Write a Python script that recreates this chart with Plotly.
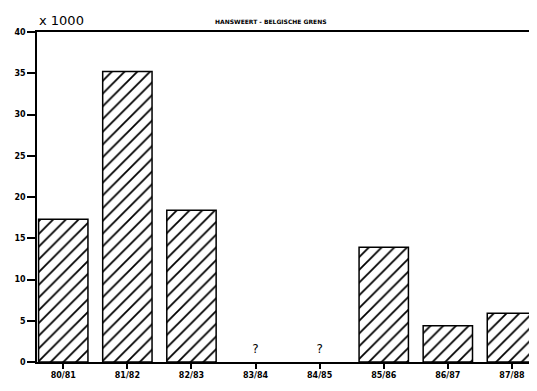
import plotly.graph_objects as go

seasons = ["80/81", "81/82", "82/83", "83/84", "84/85", "85/86", "86/87", "87/88"]
values = [17.3, 35.2, 18.4, None, None, 13.9, 4.4, 5.9]
missing = ["83/84", "84/85"]
y_ticks = [0, 5, 10, 15, 20, 25, 30, 35, 40]

fig = go.Figure()
fig.add_trace(go.Bar(
    x=list(range(len(seasons))), y=values, width=0.77,
    marker=dict(color="white", line=dict(color="black", width=1.5),
                pattern=dict(shape="/", fgcolor="black", fgopacity=1, bgcolor="white", size=9, solidity=0.2)),
    showlegend=False, hoverinfo="skip",
))
fig.add_trace(go.Scatter(
    x=[seasons.index(s) for s in missing], y=[1.5] * len(missing), mode="text", text=["?"] * len(missing),
    textfont=dict(family="DejaVu Sans", size=12, color="black"), showlegend=False, hoverinfo="skip",
))

fig.update_layout(
    width=529, height=383,
    margin=dict(l=29, r=2, t=24, b=29, autoexpand=False),
    paper_bgcolor="white", plot_bgcolor="white",
    annotations=[
        dict(text="x 1000", x=0.0, y=1.0, xref="paper", yref="paper", xanchor="left", yanchor="bottom",
             yshift=2, showarrow=False, font=dict(family="DejaVu Sans", size=13, color="black")),
        dict(text="<b>HANSWEERT - BELGISCHE GRENS</b>", x=0.47, y=1.0, xref="paper", yref="paper",
             xanchor="center", yanchor="bottom", yshift=5, showarrow=False,
             font=dict(family="DejaVu Sans", size=6, color="black")),
    ],
)
fig.update_xaxes(
    range=[-0.41, 7.36], tickvals=list(range(len(seasons))), ticktext=["<b>%s</b>" % s for s in seasons],
    ticks="outside", ticklen=5, tickwidth=1.5, tickcolor="black",
    showline=True, linecolor="black", linewidth=1.5, mirror=True,
    showgrid=False, zeroline=False, automargin=False,
    tickfont=dict(family="DejaVu Sans", size=8, color="black"),
)
fig.update_yaxes(
    range=[0, 40], tickvals=y_ticks, ticktext=["<b>%d</b>" % v for v in y_ticks],
    ticks="outside", ticklen=8, tickwidth=1.5, tickcolor="black",
    showline=True, linecolor="black", linewidth=1.5, mirror=True,
    showgrid=False, zeroline=False, automargin=False,
    tickfont=dict(family="DejaVu Sans", size=8, color="black"),
)
fig.write_html("out.html")
